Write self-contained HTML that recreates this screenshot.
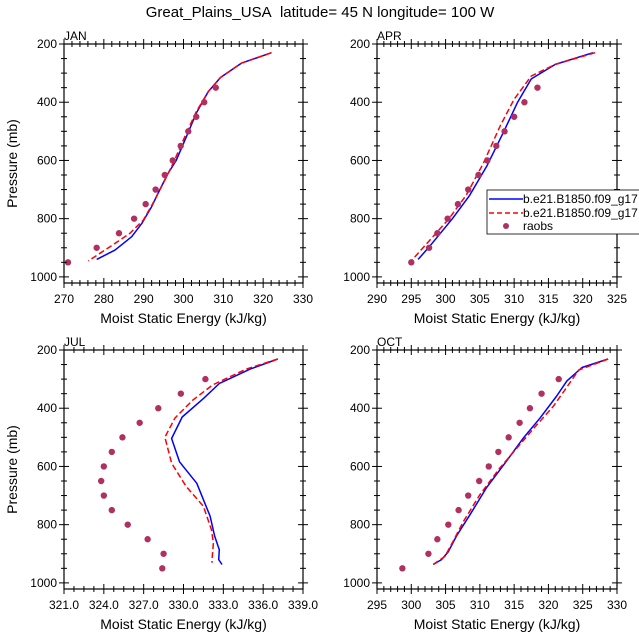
<!DOCTYPE html>
<html><head><meta charset="utf-8"><style>
body{margin:0;background:#fff;}
svg{display:block;font-family:"Liberation Sans",sans-serif;}
</style></head><body>
<svg id="chart" width="639" height="639" viewBox="0 0 639 639">
<text x="320" y="17" text-anchor="middle" font-size="15">Great_Plains_USA&#160; latitude= 45 N longitude= 100 W</text>
</svg>
<script>
// JAN
const janBlueX=[322.1,314.5,309.3,306.2,303.2,300.7,298.2,296.1,294.0,292.0,289.5,287.0,282.8,278.2];
const janBlueP=[230,266,315,364,438,519,599,645,702,759,817,862,908,940];
const janRedX=[322.1,314.5,309.3,306.2,303.2,300.7,297.4,294.9,292.3,289.9,286.5,281.5,276.1];
const janRedP=[230,266,315,364,433,507,610,679,748,805,851,897,945];
const janObsX=[271,278.2,283.8,287.6,290.5,293,295.3,297.3,299.3,301.2,303.2,305.2,308.1];
const janObsP=[950,900,850,800,750,700,650,600,550,500,450,400,350];
// APR
const aprBlueX=[321.5,316,312.5,310.5,308.5,306,303.5,301,297.5,296];
const aprBlueP=[230,270,320,400,500,620,720,800,900,940];
const aprRedX=[321.8,316,312.5,310,308,305.5,303,300.5,295];
const aprRedP=[230,270,310,390,480,610,720,800,945];
const aprObsX=[295.0,297.6,298.8,300.3,301.8,303.3,304.8,306.1,307.4,308.6,310.0,311.5,313.4];
const aprObsP=[950,900,850,800,750,700,650,600,550,500,450,400,350];
// JUL
const julBlueX=[337.1,335.0,332.7,331.5,329.9,329.1,329.7,331.0,332.0,332.35,332.7,332.65,332.9];
const julBlueP=[231,266,315,367,430,504,584,658,771,840,886,920,937];
const julRedX=[337.1,334.7,332.2,330.7,329.35,328.6,329.1,330.2,331.5,332.1,332.25,332.15,332.15];
const julRedP=[231,266,320,372,434,500,589,669,737,817,863,920,931];
const julObsX=[331.65,329.8,328.1,326.7,325.4,324.6,324.0,323.8,324.0,324.6,325.8,327.3,328.5,328.4];
const julObsP=[300,350,400,450,500,550,600,650,700,750,800,850,900,950];
// OCT
const octBlueX=[328.7,324.9,322.7,321.2,318.8,316.4,313.9,311.0,308.6,306.6,305.4,304.4,303.2];
const octBlueP=[231,260,306,358,433,501,581,672,764,839,893,920,937];
const octRedX=[328.7,324.4,322.4,320.7,318.3,315.6,312.9,310.0,307.6,306.1,304.9,303.2];
const octRedP=[231,269,337,394,457,531,606,697,789,857,909,937];
const octObsX=[298.7,302.5,303.8,305.4,306.9,308.3,309.9,311.3,312.7,314.2,315.8,317.3,319.0,321.5];
const octObsP=[950,900,850,800,750,700,650,600,550,500,450,400,350,300];
// axis ticks
const janTicks=[270,280,290,300,310,320,330];
const aprTicks=[290,295,300,305,310,315,320,325];
const julTicks=[321,324,327,330,333,336,339];
const octTicks=[295,300,305,310,315,320,325,330];
const pTicks=[200,400,600,800,1000];
const legendLabels=["b.e21.B1850.f09_g17","b.e21.B1850.f09_g17","raobs"];

const NS="http://www.w3.org/2000/svg";
const svg=document.getElementById('chart');
function mk(tag,attrs,parent){const e=document.createElementNS(NS,tag);for(const k in attrs)e.setAttribute(k,attrs[k]);(parent||svg).appendChild(e);return e;}

function panel(cfg){
  const g=mk('g',{});
  
  
  const L=cfg.left,R=cfg.right,T=cfg.top,B=T+239;
  const pB=1021;
  const sx=v=>L+(v-cfg.xmin)/(cfg.xmax-cfg.xmin)*(R-L);
  const sy=p=>T+(p-200)/(pB-200)*(B-T);
  const line=(xs,ps,color,dash,nm)=>{
    const pth=mk('path',{d:xs.map((x,i)=>(i?'L':'M')+sx(x).toFixed(1)+','+sy(ps[i]).toFixed(1)).join(''),fill:'none',stroke:color,'stroke-width':1.5,'stroke-dasharray':dash||'none','stroke-linejoin':'round'},g);
    
    
  };
  line(cfg.bx,cfg.bp,'#0000ff',null,cfg.name+'-model-line-1');
  line(cfg.rx,cfg.rp,'#ff0000','6,3',cfg.name+'-model-line-2');
  cfg.ox.forEach((x,i)=>{
    const c=mk('circle',{cx:sx(x),cy:sy(cfg.op[i]),r:3.2,fill:'#b03060'},g);
    
    
  });
  const fr=mk('rect',{x:L,y:T,width:R-L,height:B-T,fill:'none',stroke:'#000','stroke-width':1.2},g);
  
  
  for(let v=cfg.xmin;v<=cfg.xmax+1e-6;v+=cfg.minor){
    const x=sx(v);
    const major=cfg.ticks.some(t=>Math.abs(t-v)<1e-6);
    const len=major?5:3;
    mk('line',{x1:x,y1:B-len,x2:x,y2:B+len,stroke:'#000'},g);
    mk('line',{x1:x,y1:T-len,x2:x,y2:T+len,stroke:'#000'},g);
  }
  cfg.ticks.forEach(t=>{
    const tx=mk('text',{x:sx(t),y:B+20,'text-anchor':'middle','font-size':12},g);
    tx.textContent=cfg.fmt?t.toFixed(1):t;
    
    
  });
  for(let p=200;p<=1000;p+=50){
    const y=sy(p);const major=p%200===0;const len=major?5:3;
    mk('line',{x1:L-len,y1:y,x2:L+len,y2:y,stroke:'#000'},g);
    mk('line',{x1:R-len,y1:y,x2:R+len,y2:y,stroke:'#000'},g);
  }
  pTicks.forEach(p=>{
    const tx=mk('text',{x:L-7,y:sy(p)+4,'text-anchor':'end','font-size':12},g);
    tx.textContent=p;
    
    
  });
  const xt=mk('text',{x:(L+R)/2,y:B+40,'text-anchor':'middle','font-size':14},g);
  xt.textContent='Moist Static Energy (kJ/kg)';
  
  
  const lt=mk('text',{x:L,y:T-4,'font-size':12},g);
  lt.textContent=cfg.label;
  
  
  if(cfg.ytitle){
    const yt=mk('text',{x:0,y:0,'text-anchor':'middle','font-size':14,transform:`translate(17,${(T+B)/2}) rotate(-90)`},g);
    yt.textContent='Pressure (mb)';
    
    
  }
}
panel({name:'jan',label:'JAN',left:64,right:303,top:44,xmin:270,xmax:330,minor:2,ticks:janTicks,bx:janBlueX,bp:janBlueP,rx:janRedX,rp:janRedP,ox:janObsX,op:janObsP,ytitle:true});
panel({name:'apr',label:'APR',left:377,right:617,top:44,xmin:290,xmax:325,minor:1,ticks:aprTicks,bx:aprBlueX,bp:aprBlueP,rx:aprRedX,rp:aprRedP,ox:aprObsX,op:aprObsP});
panel({name:'jul',label:'JUL',left:64,right:303,top:350,xmin:321,xmax:339,minor:0.75,ticks:julTicks,fmt:true,bx:julBlueX,bp:julBlueP,rx:julRedX,rp:julRedP,ox:julObsX,op:julObsP,ytitle:true});
panel({name:'oct',label:'OCT',left:377,right:617,top:350,xmin:295,xmax:330,minor:1,ticks:octTicks,bx:octBlueX,bp:octBlueP,rx:octRedX,rp:octRedP,ox:octObsX,op:octObsP});

const lg=mk('g',{});


mk('rect',{x:487,y:190,width:160,height:44,fill:'#fff',stroke:'#000','stroke-width':0.8},lg);
const rows=[[199,'#0000ff','none'],[213,'#ff0000','5,3'],[226,null,null]];
rows.forEach((r,i)=>{
  if(r[1]){mk('line',{x1:489,y1:r[0],x2:523,y2:r[0],stroke:r[1],'stroke-width':1.5,'stroke-dasharray':r[2]},lg);}
  else{mk('circle',{cx:506,cy:r[0],r:3,fill:'#b03060'},lg);}
  const t=mk('text',{x:523,y:r[0]+4,'font-size':12},lg);
  t.textContent=legendLabels[i];
  
  
});
</script>
</body></html>
